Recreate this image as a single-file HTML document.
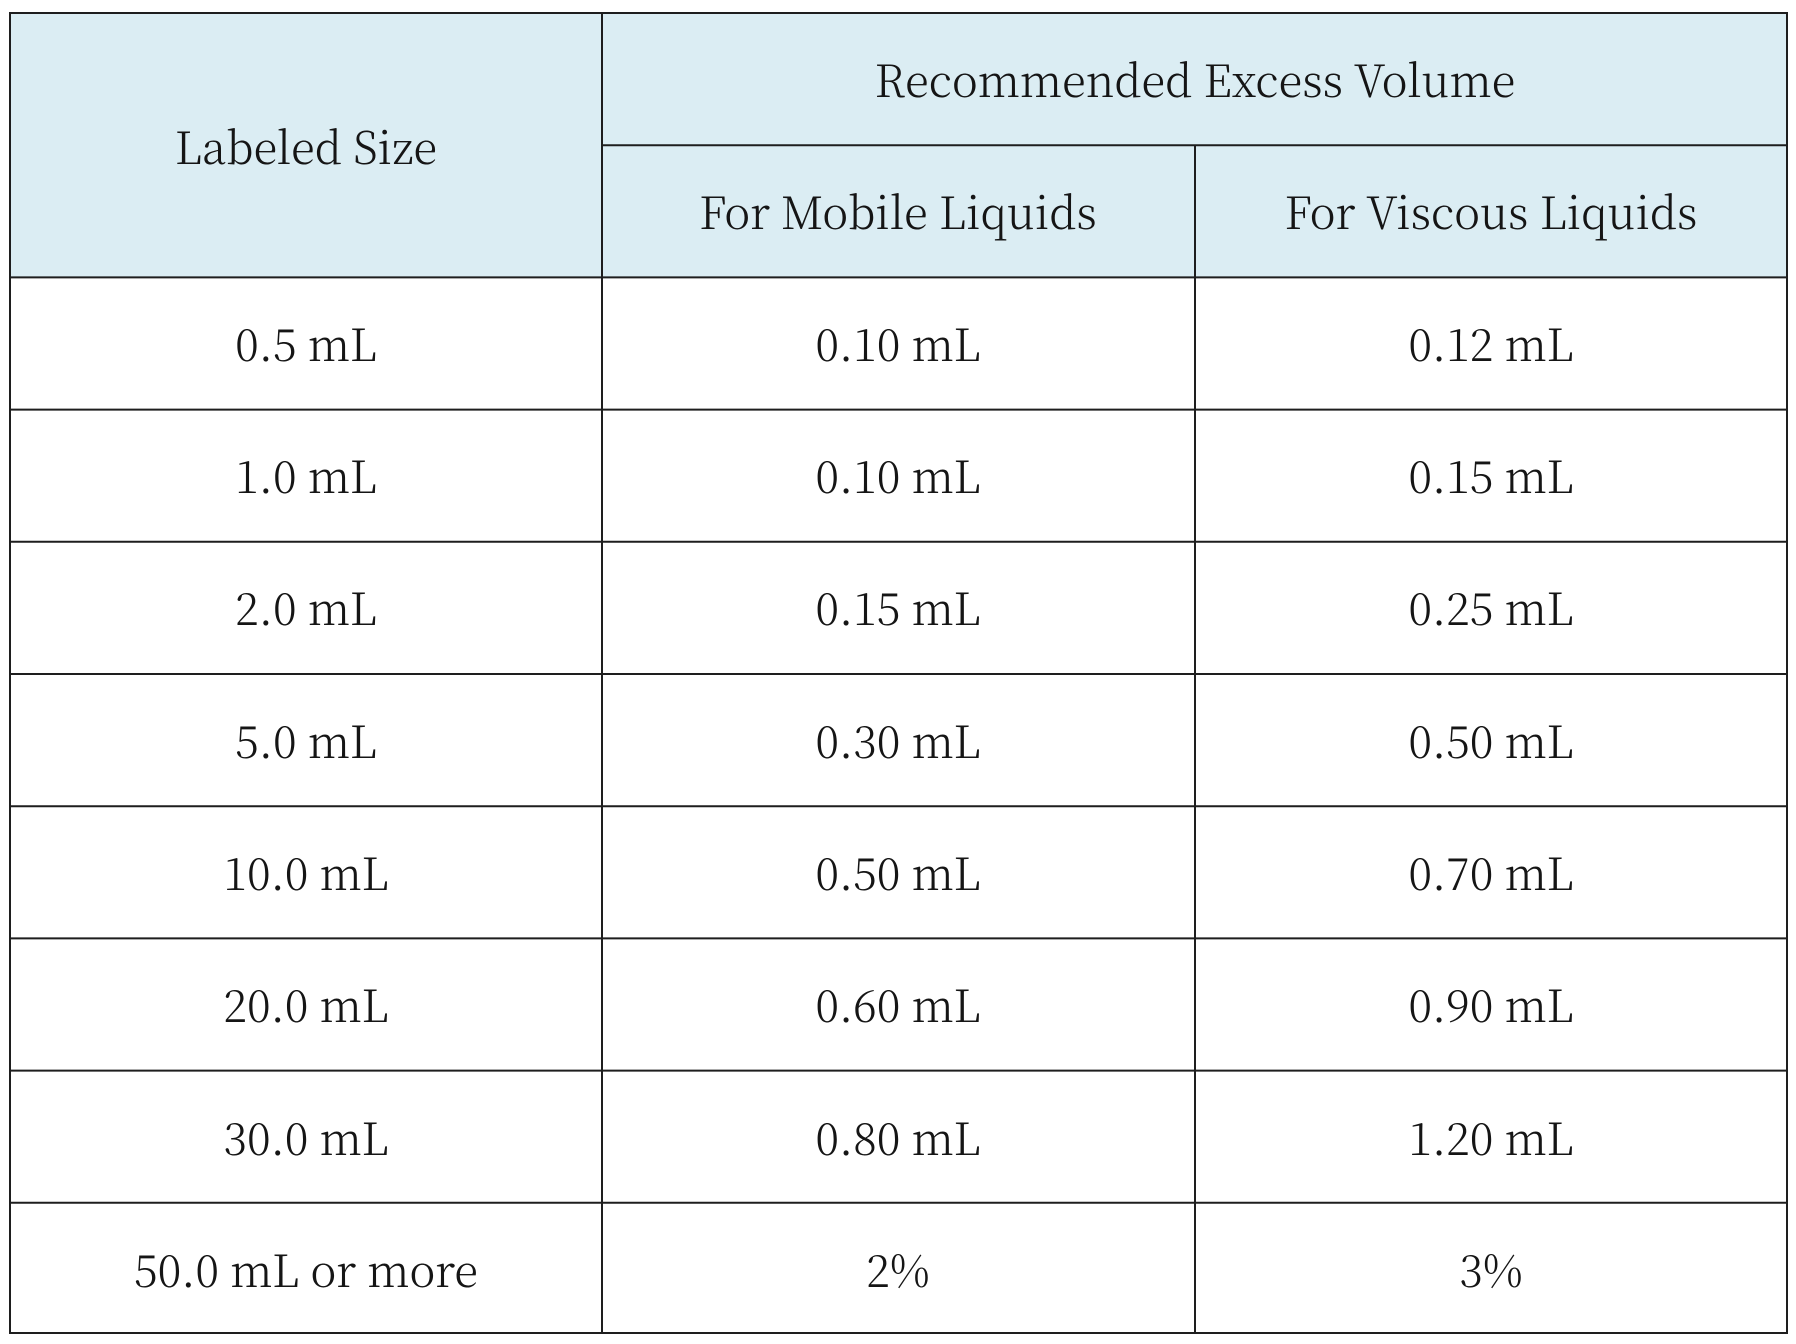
<!DOCTYPE html>
<html>
<head>
<meta charset="utf-8">
<style>
html,body{margin:0;padding:0;background:#fff;}
body{width:1796px;height:1344px;overflow:hidden;}
svg{display:block;}
text{font-family:"Noto Serif CJK SC","Liberation Serif",serif;font-size:45px;font-weight:300;fill:#151515;text-anchor:middle;}
</style>
</head>
<body>
<svg width="1796" height="1344" viewBox="0 0 1796 1344" xmlns="http://www.w3.org/2000/svg">
  <rect x="0" y="0" width="1796" height="1344" fill="#ffffff"/>
  <rect x="10" y="13" width="1777" height="264.4" fill="#dbedf3"/>
  <g stroke="#1e1e1e" stroke-width="2" fill="none">
    <line x1="9" y1="13" x2="1788" y2="13"/>
    <line x1="602" y1="145.2" x2="1788" y2="145.2"/>
    <line x1="9" y1="277.4" x2="1788" y2="277.4"/>
    <line x1="9" y1="409.6" x2="1788" y2="409.6"/>
    <line x1="9" y1="541.8" x2="1788" y2="541.8"/>
    <line x1="9" y1="674" x2="1788" y2="674"/>
    <line x1="9" y1="806.2" x2="1788" y2="806.2"/>
    <line x1="9" y1="938.4" x2="1788" y2="938.4"/>
    <line x1="9" y1="1070.6" x2="1788" y2="1070.6"/>
    <line x1="9" y1="1202.8" x2="1788" y2="1202.8"/>
    <line x1="9" y1="1333" x2="1788" y2="1333"/>
    <line x1="10" y1="12" x2="10" y2="1334"/>
    <line x1="602" y1="12" x2="602" y2="1334"/>
    <line x1="1195" y1="145" x2="1195" y2="1334"/>
    <line x1="1787" y1="12" x2="1787" y2="1334"/>
  </g>
  <text transform="translate(306 164) scale(0.97 1)">Labeled Size</text>
  <text transform="translate(1195 97) scale(0.97 1)">Recommended Excess Volume</text>
  <text transform="translate(898 229) scale(0.97 1)">For Mobile Liquids</text>
  <text transform="translate(1491 229) scale(0.97 1)">For Viscous Liquids</text>

  <text transform="translate(306 361) scale(0.97 1)">0.5 mL</text>
  <text transform="translate(898 361) scale(0.97 1)">0.10 mL</text>
  <text transform="translate(1491 361) scale(0.97 1)">0.12 mL</text>

  <text transform="translate(306 493) scale(0.97 1)">1.0 mL</text>
  <text transform="translate(898 493) scale(0.97 1)">0.10 mL</text>
  <text transform="translate(1491 493) scale(0.97 1)">0.15 mL</text>

  <text transform="translate(306 625) scale(0.97 1)">2.0 mL</text>
  <text transform="translate(898 625) scale(0.97 1)">0.15 mL</text>
  <text transform="translate(1491 625) scale(0.97 1)">0.25 mL</text>

  <text transform="translate(306 758) scale(0.97 1)">5.0 mL</text>
  <text transform="translate(898 758) scale(0.97 1)">0.30 mL</text>
  <text transform="translate(1491 758) scale(0.97 1)">0.50 mL</text>

  <text transform="translate(306 890) scale(0.97 1)">10.0 mL</text>
  <text transform="translate(898 890) scale(0.97 1)">0.50 mL</text>
  <text transform="translate(1491 890) scale(0.97 1)">0.70 mL</text>

  <text transform="translate(306 1022) scale(0.97 1)">20.0 mL</text>
  <text transform="translate(898 1022) scale(0.97 1)">0.60 mL</text>
  <text transform="translate(1491 1022) scale(0.97 1)">0.90 mL</text>

  <text transform="translate(306 1155) scale(0.97 1)">30.0 mL</text>
  <text transform="translate(898 1155) scale(0.97 1)">0.80 mL</text>
  <text transform="translate(1491 1155) scale(0.97 1)">1.20 mL</text>

  <text transform="translate(306 1287) scale(0.97 1)">50.0 mL or more</text>
  <text transform="translate(898 1287) scale(0.97 1)">2%</text>
  <text transform="translate(1491 1287) scale(0.97 1)">3%</text>
</svg>
</body>
</html>
